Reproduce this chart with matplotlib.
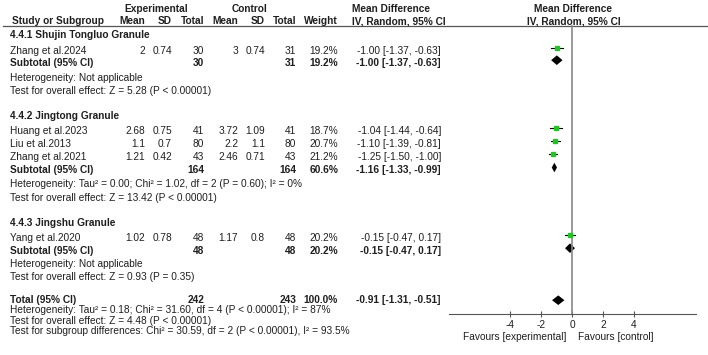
import matplotlib
matplotlib.use("Agg")
import matplotlib.pyplot as plt

plt.rcParams["font.family"] = ["Liberation Sans", "DejaVu Sans"]

# ---- data ----
studies = ["Zhang et al.2024", "Huang et al.2023", "Liu et al.2013",
           "Zhang et al.2021", "Yang et al.2020"]
study_group = [0, 1, 1, 1, 2]
exp_mean = [2, 2.68, 1.1, 1.21, 1.02]
exp_sd = [0.74, 0.75, 0.7, 0.42, 0.78]
exp_n = [30, 41, 80, 43, 48]
ctl_mean = [3, 3.72, 2.2, 2.46, 1.17]
ctl_sd = [0.74, 1.09, 1.1, 0.71, 0.8]
ctl_n = [31, 41, 80, 43, 48]
weights = [19.2, 18.7, 20.7, 21.2, 20.2]
md = [-1.00, -1.04, -1.10, -1.25, -0.15]
md_lo = [-1.37, -1.44, -1.39, -1.50, -0.47]
md_hi = [-0.63, -0.64, -0.81, -1.00, 0.17]

groups = ["4.4.1 Shujin Tongluo Granule", "4.4.2 Jingtong Granule",
          "4.4.3 Jingshu Granule"]
sub_exp_n = [30, 164, 48]
sub_ctl_n = [31, 164, 48]
sub_weight = [19.2, 60.6, 20.2]
sub_md = [-1.00, -1.16, -0.15]
sub_lo = [-1.37, -1.33, -0.47]
sub_hi = [-0.63, -0.99, 0.17]
sub_het = ["Heterogeneity: Not applicable",
           "Heterogeneity: Tau² = 0.00; Chi² = 1.02, df = 2 (P = 0.60); I² = 0%",
           "Heterogeneity: Not applicable"]
sub_test = ["Test for overall effect: Z = 5.28 (P < 0.00001)",
            "Test for overall effect: Z = 13.42 (P < 0.00001)",
            "Test for overall effect: Z = 0.93 (P = 0.35)"]

total_exp_n, total_ctl_n, total_weight = 242, 243, 100.0
total_md, total_lo, total_hi = -0.91, -1.31, -0.51
total_notes = ["Heterogeneity: Tau² = 0.18; Chi² = 31.60, df = 4 (P < 0.00001); I² = 87%",
               "Test for overall effect: Z = 4.48 (P < 0.00001)",
               "Test for subgroup differences: Chi² = 30.59, df = 2 (P < 0.00001), I² = 93.5%"]

x_ticks = [-4, -2, 0, 2, 4]

# ---- layout (pixels) ----
W, H = 708, 355
FS = 7.3
TXT = "#1f1f1f"
GREEN = "#22c322"
col_right = [145, 172, 204, 238, 265, 296, 338, 441]
group_rows = [[35, 50.7, 62.7, 77.7, 90.7],
              [116, None, 170, 184, 197.7],
              [223.3, None, 250.7, 264.3, 277.3]]
study_rows = [50.7, 131.3, 144, 157.3, 238.3]
total_rows = [299.7, 310, 320.7, 331]
axis_y = 314
rule_y = 26

fig = plt.figure(figsize=(W / 100, H / 100), dpi=100)
ax = fig.add_axes([0, 0, 1, 1])
ax.set_xlim(0, W)
ax.set_ylim(H, 0)
ax.axis("off")

# forest panel: x in mean-difference units
fax = fig.add_axes([448.7 / W, 0, 247.2 / W, 1])
fax.set_xlim(-8, 8)
fax.set_ylim(H, 0)
fax.patch.set_visible(False)
for s in ["top", "right", "left"]:
    fax.spines[s].set_visible(False)
fax.spines["bottom"].set_position(("data", axis_y))
fax.spines["bottom"].set_color("#555555")
fax.set_yticks([])
fax.set_xticks(x_ticks)
fax.set_xticklabels([str(t) for t in x_ticks])
fax.tick_params(axis="x", direction="inout", length=5, width=0.8,
                color="#555555", labelsize=FS, labelcolor=TXT, pad=1.5)


def put(x, y, s, ha="left", bold=False):
    ax.text(x, y, s, ha=ha, va="center", fontsize=FS, color=TXT,
            fontweight="bold" if bold else "normal")


def diamond(m, lo, hi, y, h=4.8):
    fax.fill([lo, m, hi, m], [y, y - h, y, y + h], color="black", lw=0)


# header
put(156, 9, "Experimental", ha="center", bold=True)
put(250, 9, "Control", ha="center", bold=True)
put(352, 9, "Mean Difference", bold=True)
put(573, 9, "Mean Difference", ha="center", bold=True)
put(12, 21, "Study or Subgroup", bold=True)
for x, s in zip(col_right[:7], ["Mean", "SD", "Total", "Mean", "SD", "Total", "Weight"]):
    put(x, 21, s, ha="right", bold=True)
put(352, 21, "IV, Random, 95% CI", bold=True)
put(574, 21, "IV, Random, 95% CI", ha="center", bold=True)
ax.plot([3, W], [rule_y, rule_y], color="#555555", lw=0.9)

# zero line
fax.plot([0, 0], [rule_y, axis_y], color="#888888", lw=1.2)

# studies
for i, name in enumerate(studies):
    y = study_rows[i]
    put(10, y, name)
    vals = [f"{exp_mean[i]:g}", f"{exp_sd[i]:g}", str(exp_n[i]),
            f"{ctl_mean[i]:g}", f"{ctl_sd[i]:g}", str(ctl_n[i]),
            f"{weights[i]:.1f}%",
            f"{md[i]:.2f} [{md_lo[i]:.2f}, {md_hi[i]:.2f}]"]
    for x, s in zip(col_right, vals):
        put(x, y, s, ha="right")
    my = y - 3
    fax.plot([md_lo[i], md_hi[i]], [my, my], color="black", lw=0.8)
    fax.plot(md[i], my, marker="s", ms=3.3 * (weights[i] / 20) ** 0.5,
             color=GREEN, mec=GREEN, ls="none")

# subgroups
for g, title in enumerate(groups):
    r = group_rows[g]
    put(10, r[0], title, bold=True)
    put(10, r[2], "Subtotal (95% CI)", bold=True)
    put(col_right[2], r[2], str(sub_exp_n[g]), ha="right", bold=True)
    put(col_right[5], r[2], str(sub_ctl_n[g]), ha="right", bold=True)
    put(col_right[6], r[2], f"{sub_weight[g]:.1f}%", ha="right", bold=True)
    put(col_right[7], r[2], f"{sub_md[g]:.2f} [{sub_lo[g]:.2f}, {sub_hi[g]:.2f}]",
        ha="right", bold=True)
    put(10, r[3], sub_het[g])
    put(10, r[4], sub_test[g])
    diamond(sub_md[g], sub_lo[g], sub_hi[g], r[2] - 2.5)

# overall
ty = total_rows[0]
put(10, ty, "Total (95% CI)", bold=True)
put(col_right[2], ty, str(total_exp_n), ha="right", bold=True)
put(col_right[5], ty, str(total_ctl_n), ha="right", bold=True)
put(col_right[6], ty, f"{total_weight:.1f}%", ha="right", bold=True)
put(col_right[7], ty, f"{total_md:.2f} [{total_lo:.2f}, {total_hi:.2f}]",
    ha="right", bold=True)
for y, s in zip(total_rows[1:], total_notes):
    put(10, y, s)
diamond(total_md, total_lo, total_hi, ty + 0.5)

# favours labels
fax.text(-0.4, 337, "Favours [experimental]", ha="right", va="center",
         fontsize=FS, color=TXT)
fax.text(0.35, 337, "Favours [control]", ha="left", va="center",
         fontsize=FS, color=TXT)

fig.savefig("out.png", dpi=100)
